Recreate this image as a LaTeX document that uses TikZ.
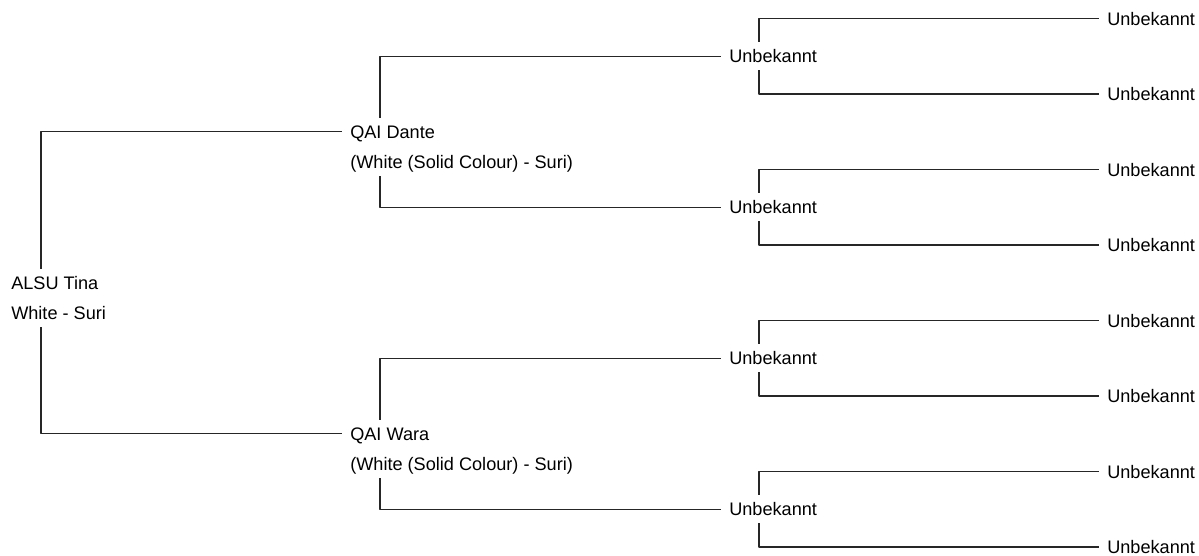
\documentclass[tikz,border=0pt]{standalone}
\usepackage{fontspec}
\setmainfont{Liberation Sans}
\usetikzlibrary{positioning}
\begin{document}
\begin{tikzpicture}[x=0.75pt,y=-0.75pt,line join=round,line cap=rect,
	font=\fontsize{13.6pt}{16pt}\selectfont,
	ahnen/.style={anchor=west,inner xsep=6.75pt,inner ysep=4.1pt,text height=11.7pt,text depth=1.9pt},
	linie/.style={draw=black!85,line width=1pt}]
	\useasboundingbox (0,0) rectangle (1199,556);
	\def\dx{29.25pt} % Abstand der senkrechten Linie
	% Proband und Eltern
	\node[ahnen] (tina) at (2,282.75) {ALSU Tina};
	\node[ahnen,below=0.75pt of tina.south west,anchor=north west] (tinai) {White - Suri};
	\node[ahnen] (dante) at (341,131.75) {QAI Dante};
	\node[ahnen,below=0.75pt of dante.south west,anchor=north west] (dantei) {(White (Solid Colour) - Suri)};
	\node[ahnen] (wara) at (341,433.75) {QAI Wara};
	\node[ahnen,below=0.75pt of wara.south west,anchor=north west] (warai) {(White (Solid Colour) - Suri)};
	% Grosseltern
	\foreach \i/\y in {1/56.25,2/207.25,3/358.25,4/509.25}
		\node[ahnen] (m\i) at (720,\y) {Unbekannt};
	% Urgrosseltern
	\foreach \i/\y in {1/18.5,2/94,3/169.5,4/245,5/320.5,6/396,7/471.5,8/547}
		\node[ahnen] (u\i) at (1098,\y) {Unbekannt};
	% Linien
	\draw[linie] ([xshift=\dx]tina.north west) |- (dante.west);
	\draw[linie] ([xshift=\dx]tinai.south west) |- (wara.west);
	\draw[linie] ([xshift=\dx]dante.north west) |- (m1.west);
	\draw[linie] ([xshift=\dx]dantei.south west) |- (m2.west);
	\draw[linie] ([xshift=\dx]wara.north west) |- (m3.west);
	\draw[linie] ([xshift=\dx]warai.south west) |- (m4.west);
	\foreach \m/\a/\b in {1/1/2,2/3/4,3/5/6,4/7/8}{
		\draw[linie] ([xshift=\dx]m\m.north west) |- (u\a.west);
		\draw[linie] ([xshift=\dx]m\m.south west) |- (u\b.west);
	}
\end{tikzpicture}
\end{document}
